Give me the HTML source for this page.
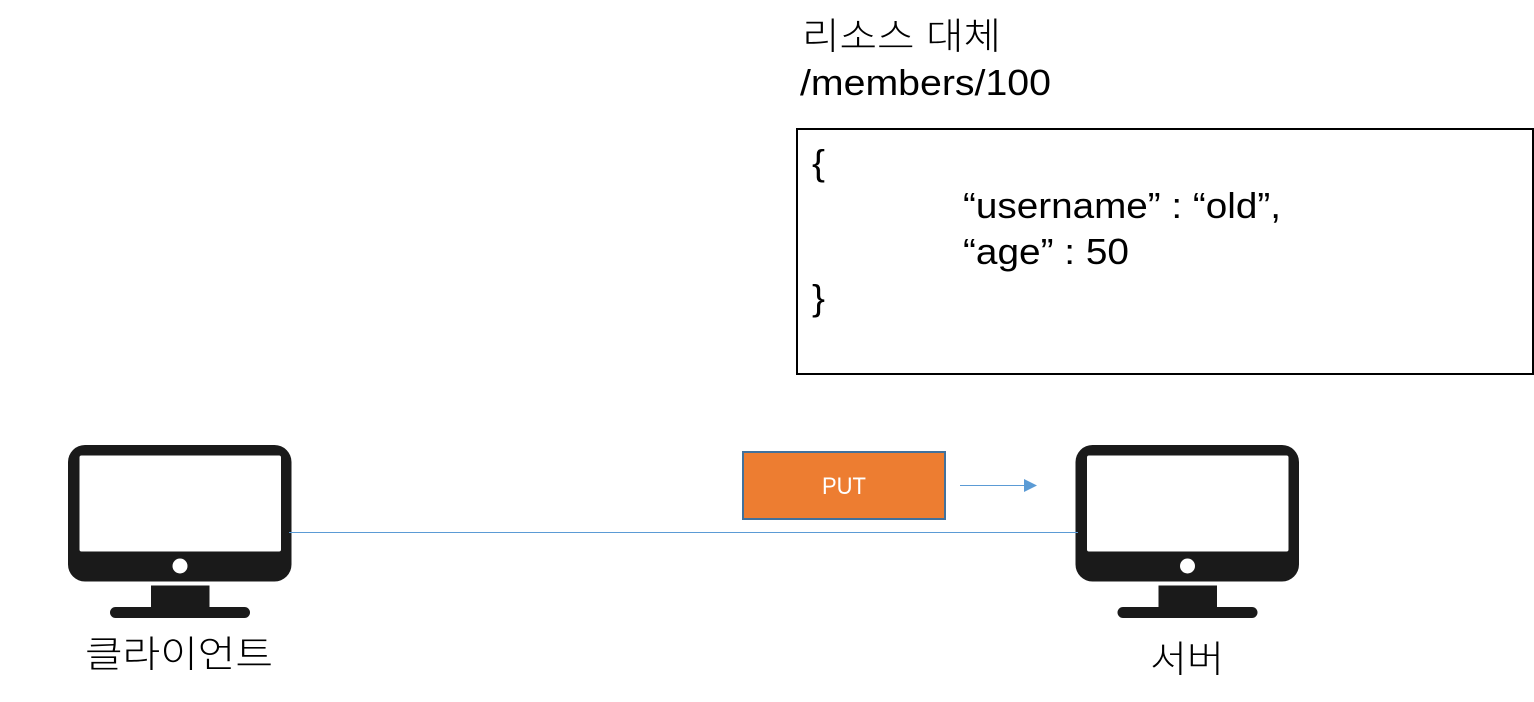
<!DOCTYPE html>
<html lang="ko">
<head>
<meta charset="utf-8">
<title>PUT</title>
<style>
html,body{margin:0;padding:0;background:#fff;width:1534px;height:702px;overflow:hidden}
svg{display:block}
text{font-family:"Liberation Sans","Noto Sans CJK KR",sans-serif;fill:#000}
.k{font-family:"Noto Sans CJK KR","NanumGothic",sans-serif;font-weight:300}
</style>
</head>
<body>
<svg width="1534" height="702" viewBox="0 0 1534 702" xmlns="http://www.w3.org/2000/svg">
<defs>
<g id="pc">
<rect x="68" y="445" width="223.500" height="136.500" rx="17" fill="#1a1a1a"/>
<rect x="79.500" y="455.500" width="201.500" height="96" rx="2" fill="#fff"/>
<circle cx="180" cy="566" r="7.500" fill="#fff"/>
<rect x="151" y="585.500" width="58.500" height="23" fill="#1a1a1a"/>
<rect x="110" y="607" width="140" height="11" rx="5.500" fill="#1a1a1a"/>
</g>
</defs>

<text x="802" y="49" font-size="37" class="k" textLength="199" lengthAdjust="spacingAndGlyphs">리소스 대체</text>
<text x="800" y="95" font-size="36" textLength="251" lengthAdjust="spacingAndGlyphs">/members/100</text>

<rect x="797" y="129" width="736" height="245" fill="#fff" stroke="#000" stroke-width="2"/>
<text x="812" y="175" font-size="36" textLength="13" lengthAdjust="spacingAndGlyphs">{</text>
<text x="963" y="218" font-size="36" textLength="318" lengthAdjust="spacingAndGlyphs">“username” : “old”,</text>
<text x="963" y="264" font-size="36" textLength="166" lengthAdjust="spacingAndGlyphs">“age” : 50</text>
<text x="812" y="310" font-size="36" textLength="13" lengthAdjust="spacingAndGlyphs">}</text>

<use href="#pc"/>
<use href="#pc" x="1007.500"/>

<line x1="289" y1="532.500" x2="1078" y2="532.500" stroke="#5b9bd5" stroke-width="1"/>

<rect x="743" y="452" width="202" height="67" fill="#ed7d31" stroke="#41719c" stroke-width="2"/>
<text x="844" y="494" font-size="24" text-anchor="middle" style="fill:#fff" textLength="44" lengthAdjust="spacingAndGlyphs">PUT</text>

<line x1="960" y1="485.500" x2="1025" y2="485.500" stroke="#5b9bd5" stroke-width="1"/>
<polygon points="1024,479 1037,485.500 1024,492" fill="#5b9bd5"/>

<text x="85" y="667" font-size="37" class="k" textLength="188" lengthAdjust="spacingAndGlyphs">클라이언트</text>
<text x="1150" y="672" font-size="37" class="k" textLength="74" lengthAdjust="spacingAndGlyphs">서버</text>
</svg>
</body>
</html>
